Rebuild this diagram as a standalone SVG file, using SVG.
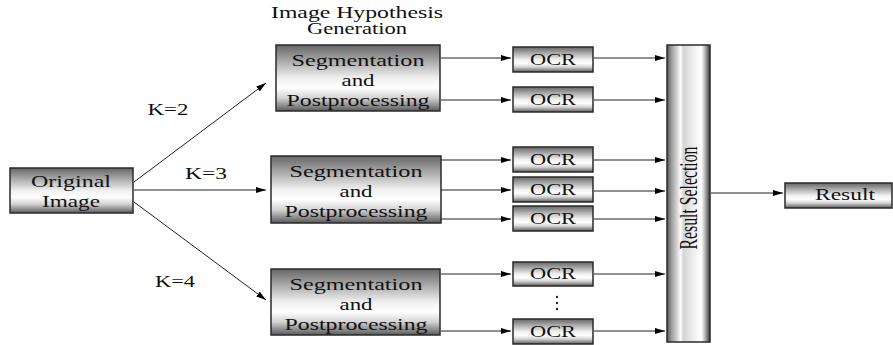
<svg xmlns="http://www.w3.org/2000/svg" width="893" height="345" viewBox="0 0 893 345">
  <defs>
    <!-- metallic shading for the process boxes -->
    <linearGradient id="boxShade" x1="0" y1="0" x2="0" y2="1">
      <stop offset="0" stop-color="#666666"/>
      <stop offset="0.5" stop-color="#f0f0f0"/>
      <stop offset="0.65" stop-color="#ffffff"/>
      <stop offset="0.8" stop-color="#d4d4d4"/>
      <stop offset="1" stop-color="#5a5a5a"/>
    </linearGradient>
    <!-- cylinder shading for the vertical selection bar -->
    <linearGradient id="barShade" x1="0" y1="0" x2="1" y2="0">
      <stop offset="0" stop-color="#555555"/>
      <stop offset="0.1" stop-color="#9a9a9a"/>
      <stop offset="0.25" stop-color="#dcdcdc"/>
      <stop offset="0.32" stop-color="#ffffff"/>
      <stop offset="0.38" stop-color="#d4d4d4"/>
      <stop offset="0.6" stop-color="#ededed"/>
      <stop offset="0.8" stop-color="#ffffff"/>
      <stop offset="0.88" stop-color="#b8b8b8"/>
      <stop offset="0.95" stop-color="#6e6e6e"/>
      <stop offset="1" stop-color="#333333"/>
    </linearGradient>
    <marker id="arrow" markerWidth="10" markerHeight="6" refX="10" refY="3" orient="auto" markerUnits="userSpaceOnUse">
      <path d="M0,0 L10,3 L0,6 Z" fill="#000"/>
    </marker>
  </defs>
  <style>
    .box { fill: url(#boxShade); stroke: #2a2a2a; stroke-width: 1.5; }
    .bar { fill: url(#barShade); stroke: #2a2a2a; stroke-width: 1.5; }
    .lbl { font-family: "Liberation Serif", "Times New Roman", serif; font-size: 17px; fill: #111; text-anchor: middle; }
    .head { font-size: 16px; }
    .vert { font-size: 26px; }
    .edge { stroke: #222; stroke-width: 1; fill: none; marker-end: url(#arrow); }
  </style>

  <rect width="893" height="345" fill="#ffffff"/>

  <!-- stage heading -->
  <g id="heading">
    <text class="lbl head" x="357" y="18" textLength="172" lengthAdjust="spacingAndGlyphs">Image Hypothesis</text>
    <text class="lbl head" x="357" y="34" textLength="100" lengthAdjust="spacingAndGlyphs">Generation</text>
  </g>

  <g id="original">
    <rect class="box" x="10" y="168" width="123" height="45"/>
    <text class="lbl" x="71" y="187" textLength="80" lengthAdjust="spacingAndGlyphs">Original</text>
    <text class="lbl" x="71" y="207" textLength="58" lengthAdjust="spacingAndGlyphs">Image</text>
  </g>

  <g id="seg1">
    <rect class="box" x="276" y="45" width="164" height="66"/>
    <text class="lbl" x="358" y="66" textLength="133" lengthAdjust="spacingAndGlyphs">Segmentation</text>
    <text class="lbl" x="358" y="86" textLength="33" lengthAdjust="spacingAndGlyphs">and</text>
    <text class="lbl" x="358" y="106" textLength="143" lengthAdjust="spacingAndGlyphs">Postprocessing</text>
  </g>

  <g id="seg2">
    <rect class="box" x="271" y="156" width="170" height="67"/>
    <text class="lbl" x="356" y="177" textLength="133" lengthAdjust="spacingAndGlyphs">Segmentation</text>
    <text class="lbl" x="356" y="197" textLength="33" lengthAdjust="spacingAndGlyphs">and</text>
    <text class="lbl" x="356" y="217" textLength="143" lengthAdjust="spacingAndGlyphs">Postprocessing</text>
  </g>

  <g id="seg3">
    <rect class="box" x="271" y="269" width="169" height="66"/>
    <text class="lbl" x="356" y="290" textLength="133" lengthAdjust="spacingAndGlyphs">Segmentation</text>
    <text class="lbl" x="356" y="310" textLength="33" lengthAdjust="spacingAndGlyphs">and</text>
    <text class="lbl" x="356" y="330" textLength="143" lengthAdjust="spacingAndGlyphs">Postprocessing</text>
  </g>

  <g id="ocr1">
    <rect class="box" x="513" y="47" width="80" height="25"/>
    <text class="lbl" x="553" y="65" textLength="46" lengthAdjust="spacingAndGlyphs">OCR</text>
  </g>
  <g id="ocr2">
    <rect class="box" x="513" y="87" width="80" height="25"/>
    <text class="lbl" x="553" y="105" textLength="46" lengthAdjust="spacingAndGlyphs">OCR</text>
  </g>
  <g id="ocr3">
    <rect class="box" x="513" y="147" width="80" height="25"/>
    <text class="lbl" x="553" y="165" textLength="46" lengthAdjust="spacingAndGlyphs">OCR</text>
  </g>
  <g id="ocr4">
    <rect class="box" x="513" y="177" width="80" height="25"/>
    <text class="lbl" x="553" y="195" textLength="46" lengthAdjust="spacingAndGlyphs">OCR</text>
  </g>
  <g id="ocr5">
    <rect class="box" x="513" y="206" width="80" height="25"/>
    <text class="lbl" x="553" y="224" textLength="46" lengthAdjust="spacingAndGlyphs">OCR</text>
  </g>
  <g id="ocr6">
    <rect class="box" x="513" y="262" width="80" height="24"/>
    <text class="lbl" x="553" y="279" textLength="46" lengthAdjust="spacingAndGlyphs">OCR</text>
  </g>
  <g id="ocr-ellipsis">
    <circle cx="557" cy="297" r="1.2" fill="#222"/>
    <circle cx="557" cy="303" r="1.2" fill="#222"/>
    <circle cx="557" cy="309" r="1.2" fill="#222"/>
  </g>
  <g id="ocr7">
    <rect class="box" x="513" y="319" width="80" height="25"/>
    <text class="lbl" x="553" y="337" textLength="46" lengthAdjust="spacingAndGlyphs">OCR</text>
  </g>

  <g id="selection">
    <rect class="bar" x="667" y="45" width="43" height="297"/>
    <text class="lbl vert" transform="translate(697,198) rotate(-90)" textLength="103" lengthAdjust="spacingAndGlyphs">Result Selection</text>
  </g>

  <g id="result">
    <rect class="box" x="785" y="183" width="107" height="25"/>
    <text class="lbl" x="845" y="200" textLength="60" lengthAdjust="spacingAndGlyphs">Result</text>
  </g>

  <g id="connectors">
    <line class="edge" x1="134" y1="182" x2="266" y2="83"/>
    <line class="edge" x1="134" y1="190" x2="266" y2="190"/>
    <line class="edge" x1="134" y1="202" x2="266" y2="300"/>

    <line class="edge" x1="441" y1="58" x2="511" y2="58"/>
    <line class="edge" x1="441" y1="100" x2="511" y2="100"/>
    <line class="edge" x1="441" y1="160" x2="511" y2="160"/>
    <line class="edge" x1="441" y1="190" x2="511" y2="190"/>
    <line class="edge" x1="441" y1="219" x2="511" y2="219"/>
    <line class="edge" x1="441" y1="274" x2="511" y2="274"/>
    <line class="edge" x1="441" y1="331" x2="511" y2="331"/>

    <line class="edge" x1="594" y1="58" x2="665" y2="58"/>
    <line class="edge" x1="594" y1="100" x2="665" y2="100"/>
    <line class="edge" x1="594" y1="160" x2="665" y2="160"/>
    <line class="edge" x1="594" y1="191" x2="665" y2="191"/>
    <line class="edge" x1="594" y1="219" x2="665" y2="219"/>
    <line class="edge" x1="594" y1="274" x2="665" y2="274"/>
    <line class="edge" x1="594" y1="331" x2="665" y2="331"/>

    <line class="edge" x1="711" y1="193" x2="783" y2="193"/>

    <text class="lbl" x="168" y="115" textLength="41" lengthAdjust="spacingAndGlyphs">K=2</text>
    <text class="lbl" x="206" y="179" textLength="42" lengthAdjust="spacingAndGlyphs">K=3</text>
    <text class="lbl" x="175" y="287" textLength="40" lengthAdjust="spacingAndGlyphs">K=4</text>
  </g>
</svg>
